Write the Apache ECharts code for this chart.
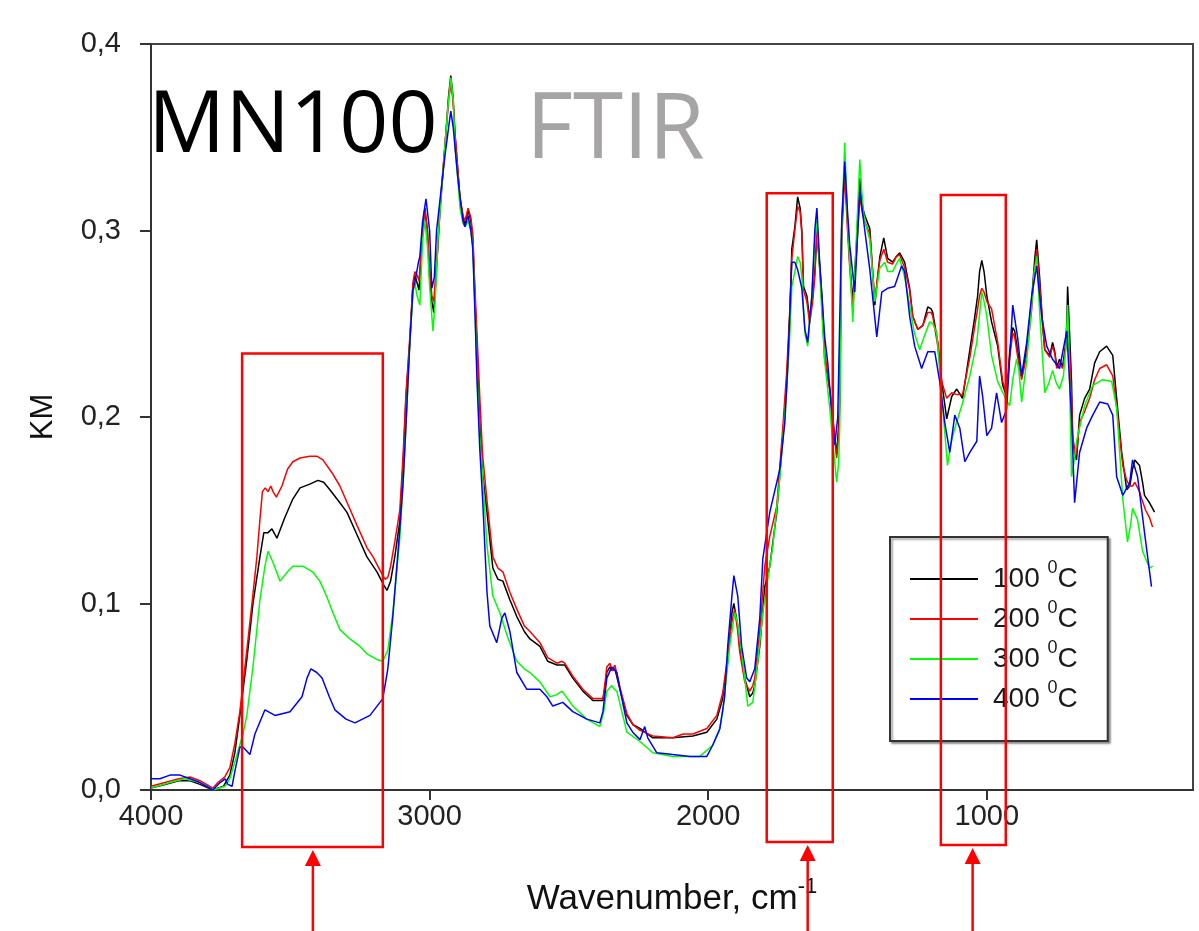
<!DOCTYPE html>
<html>
<head>
<meta charset="utf-8">
<script src="https://cdn.jsdelivr.net/npm/echarts@6/dist/echarts.min.js"></script>
<style>
  html, body { margin: 0; padding: 0; background: #fff; }
  #chart { width: 1199px; height: 931px; }
</style>
</head>
<body>
<div id="chart"></div>
<script>
// Kubelka-Munk spectra of MN100 after heating, [wavenumber cm-1, KM]
const t100 = [[4000,0.001],[3950,0.003],[3900,0.005],[3860,0.005],[3824,0.003],[3778,0.000],[3740,0.002],[3717,0.008],[3699,0.020],[3681,0.040],[3656,0.070],[3634,0.100],[3609,0.125],[3595,0.138],[3580,0.138],[3566,0.140],[3548,0.135],[3520,0.146],[3491,0.156],[3465,0.162],[3430,0.164],[3401,0.166],[3380,0.165],[3358,0.161],[3322,0.154],[3297,0.149],[3261,0.137],[3225,0.125],[3189,0.117],[3165,0.110],[3153,0.107],[3140,0.112],[3125,0.125],[3107,0.144],[3095,0.175],[3085,0.210],[3071,0.240],[3060,0.270],[3053,0.276],[3045,0.272],[3038,0.268],[3025,0.300],[3017,0.312],[3008,0.300],[3000,0.275],[2992,0.262],[2985,0.256],[2975,0.280],[2963,0.310],[2950,0.335],[2940,0.355],[2932,0.372],[2924,0.383],[2916,0.372],[2909,0.352],[2900,0.335],[2891,0.317],[2880,0.307],[2873,0.303],[2862,0.311],[2852,0.305],[2845,0.295],[2837,0.263],[2830,0.238],[2820,0.197],[2810,0.170],[2794,0.149],[2773,0.119],[2755,0.113],[2737,0.112],[2712,0.102],[2687,0.093],[2660,0.085],[2640,0.081],[2604,0.077],[2576,0.069],[2543,0.067],[2515,0.067],[2486,0.060],[2450,0.053],[2414,0.048],[2378,0.048],[2370,0.055],[2364,0.063],[2353,0.066],[2345,0.064],[2335,0.065],[2317,0.054],[2292,0.040],[2270,0.035],[2245,0.033],[2199,0.028],[2127,0.028],[2055,0.029],[2005,0.031],[1969,0.038],[1948,0.049],[1930,0.069],[1915,0.095],[1908,0.100],[1901,0.100],[1894,0.088],[1887,0.077],[1869,0.060],[1851,0.050],[1840,0.052],[1833,0.056],[1815,0.077],[1797,0.109],[1779,0.120],[1754,0.149],[1732,0.190],[1718,0.220],[1707,0.255],[1700,0.290],[1689,0.302],[1679,0.318],[1670,0.312],[1664,0.300],[1658,0.270],[1646,0.265],[1636,0.253],[1625,0.265],[1617,0.279],[1610,0.300],[1600,0.280],[1592,0.262],[1582,0.231],[1564,0.215],[1553,0.199],[1539,0.180],[1532,0.195],[1528,0.208],[1521,0.301],[1510,0.335],[1500,0.305],[1492,0.283],[1481,0.262],[1467,0.295],[1456,0.328],[1445,0.312],[1438,0.308],[1420,0.301],[1402,0.260],[1392,0.275],[1384,0.286],[1370,0.296],[1366,0.297],[1356,0.285],[1338,0.283],[1325,0.286],[1313,0.288],[1295,0.283],[1277,0.269],[1266,0.254],[1248,0.247],[1230,0.249],[1212,0.259],[1200,0.258],[1194,0.256],[1176,0.240],[1162,0.219],[1144,0.199],[1126,0.211],[1108,0.215],[1087,0.210],[1061,0.236],[1044,0.253],[1033,0.265],[1026,0.278],[1018,0.284],[1010,0.278],[1000,0.265],[983,0.251],[961,0.238],[943,0.217],[929,0.211],[918,0.235],[907,0.248],[900,0.246],[889,0.235],[875,0.222],[857,0.236],[839,0.263],[828,0.285],[821,0.295],[810,0.274],[800,0.250],[792,0.236],[774,0.233],[764,0.240],[756,0.235],[749,0.227],[739,0.231],[728,0.227],[718,0.238],[713,0.250],[710,0.270],[703,0.245],[696,0.219],[692,0.190],[685,0.180],[678,0.177],[667,0.201],[649,0.210],[631,0.215],[613,0.229],[595,0.235],[570,0.238],[548,0.233],[534,0.210],[516,0.181],[498,0.161],[487,0.163],[477,0.172],[469,0.177],[452,0.174],[441,0.165],[434,0.158],[416,0.154],[398,0.149]];

const t200 = [[4000,0.002],[3950,0.004],[3900,0.006],[3860,0.007],[3824,0.005],[3790,0.002],[3778,0.001],[3760,0.004],[3735,0.007],[3717,0.012],[3699,0.025],[3681,0.042],[3656,0.075],[3634,0.105],[3620,0.125],[3609,0.145],[3600,0.160],[3590,0.162],[3580,0.160],[3570,0.163],[3562,0.160],[3550,0.157],[3530,0.163],[3510,0.172],[3491,0.176],[3465,0.178],[3430,0.179],[3405,0.179],[3383,0.177],[3350,0.170],[3322,0.163],[3290,0.152],[3261,0.142],[3225,0.130],[3203,0.125],[3175,0.117],[3160,0.113],[3150,0.114],[3140,0.120],[3125,0.133],[3107,0.150],[3095,0.180],[3085,0.212],[3071,0.243],[3060,0.272],[3053,0.278],[3045,0.276],[3038,0.273],[3025,0.302],[3017,0.311],[3008,0.300],[3000,0.280],[2992,0.265],[2985,0.262],[2975,0.283],[2963,0.312],[2950,0.337],[2940,0.355],[2932,0.370],[2924,0.378],[2916,0.370],[2909,0.352],[2900,0.335],[2891,0.318],[2880,0.308],[2873,0.305],[2862,0.312],[2852,0.307],[2845,0.298],[2837,0.268],[2830,0.245],[2820,0.211],[2810,0.180],[2794,0.155],[2773,0.125],[2755,0.119],[2737,0.117],[2712,0.106],[2687,0.097],[2660,0.088],[2640,0.085],[2604,0.079],[2576,0.071],[2543,0.068],[2525,0.069],[2515,0.068],[2486,0.061],[2450,0.054],[2414,0.049],[2378,0.049],[2370,0.058],[2364,0.066],[2353,0.068],[2345,0.064],[2335,0.067],[2317,0.055],[2292,0.041],[2270,0.035],[2245,0.032],[2199,0.029],[2127,0.028],[2090,0.030],[2055,0.030],[2005,0.033],[1969,0.040],[1948,0.052],[1930,0.072],[1915,0.090],[1905,0.097],[1894,0.085],[1887,0.074],[1869,0.058],[1851,0.053],[1840,0.056],[1833,0.060],[1815,0.085],[1797,0.120],[1779,0.136],[1754,0.152],[1732,0.195],[1718,0.225],[1707,0.258],[1700,0.285],[1689,0.300],[1679,0.313],[1670,0.310],[1664,0.298],[1658,0.268],[1646,0.262],[1636,0.250],[1625,0.262],[1617,0.276],[1610,0.300],[1600,0.282],[1592,0.265],[1582,0.235],[1564,0.215],[1553,0.200],[1539,0.178],[1532,0.190],[1528,0.205],[1521,0.295],[1510,0.330],[1500,0.300],[1492,0.280],[1481,0.258],[1467,0.290],[1456,0.318],[1445,0.308],[1438,0.305],[1420,0.298],[1402,0.262],[1392,0.275],[1384,0.284],[1370,0.290],[1366,0.291],[1356,0.283],[1338,0.282],[1325,0.286],[1313,0.287],[1295,0.280],[1277,0.268],[1266,0.254],[1248,0.247],[1230,0.249],[1212,0.256],[1200,0.256],[1194,0.254],[1176,0.238],[1162,0.219],[1144,0.210],[1126,0.213],[1108,0.212],[1087,0.212],[1061,0.232],[1044,0.248],[1033,0.258],[1026,0.265],[1018,0.269],[1010,0.267],[1000,0.262],[983,0.258],[961,0.240],[943,0.219],[929,0.213],[918,0.232],[907,0.245],[900,0.243],[889,0.232],[875,0.220],[857,0.233],[839,0.258],[828,0.280],[821,0.290],[810,0.270],[800,0.250],[792,0.236],[774,0.232],[764,0.238],[756,0.234],[749,0.226],[739,0.229],[728,0.226],[718,0.235],[713,0.242],[710,0.248],[703,0.235],[696,0.210],[692,0.190],[685,0.182],[678,0.180],[667,0.197],[649,0.203],[631,0.210],[613,0.220],[595,0.226],[570,0.228],[548,0.222],[534,0.205],[512,0.174],[498,0.166],[487,0.163],[477,0.163],[469,0.165],[452,0.160],[444,0.156],[430,0.150],[416,0.146],[405,0.141]];

const t300 = [[4000,0.001],[3932,0.004],[3880,0.006],[3824,0.004],[3778,0.000],[3734,0.002],[3717,0.006],[3699,0.015],[3670,0.030],[3656,0.040],[3634,0.066],[3609,0.102],[3591,0.120],[3580,0.128],[3562,0.122],[3537,0.112],[3510,0.117],[3491,0.120],[3455,0.120],[3420,0.117],[3394,0.112],[3370,0.104],[3347,0.095],[3322,0.086],[3286,0.081],[3250,0.077],[3225,0.073],[3190,0.070],[3168,0.069],[3150,0.075],[3132,0.095],[3107,0.135],[3095,0.165],[3085,0.195],[3071,0.240],[3060,0.266],[3053,0.272],[3045,0.265],[3035,0.260],[3025,0.295],[3017,0.305],[3008,0.292],[3000,0.270],[2988,0.246],[2980,0.262],[2970,0.295],[2958,0.320],[2945,0.345],[2935,0.365],[2924,0.382],[2915,0.370],[2909,0.345],[2900,0.330],[2891,0.312],[2880,0.304],[2873,0.302],[2862,0.305],[2852,0.300],[2845,0.292],[2837,0.258],[2830,0.225],[2820,0.190],[2809,0.167],[2794,0.131],[2773,0.104],[2748,0.095],[2720,0.082],[2687,0.069],[2660,0.065],[2640,0.063],[2604,0.058],[2568,0.050],[2545,0.051],[2525,0.053],[2500,0.048],[2486,0.045],[2436,0.038],[2389,0.034],[2375,0.042],[2364,0.053],[2346,0.056],[2337,0.054],[2328,0.053],[2310,0.042],[2292,0.031],[2245,0.026],[2199,0.020],[2127,0.018],[2030,0.018],[1984,0.024],[1960,0.032],[1948,0.042],[1935,0.060],[1923,0.077],[1905,0.095],[1895,0.090],[1887,0.081],[1869,0.060],[1858,0.045],[1840,0.047],[1822,0.069],[1804,0.095],[1790,0.109],[1768,0.131],[1743,0.167],[1718,0.215],[1707,0.245],[1700,0.270],[1689,0.278],[1679,0.286],[1670,0.283],[1664,0.275],[1653,0.245],[1643,0.238],[1628,0.265],[1617,0.295],[1610,0.305],[1600,0.280],[1592,0.255],[1582,0.230],[1564,0.205],[1553,0.187],[1539,0.165],[1532,0.175],[1528,0.195],[1521,0.300],[1510,0.347],[1500,0.305],[1492,0.283],[1481,0.251],[1467,0.300],[1456,0.338],[1445,0.312],[1438,0.305],[1420,0.295],[1402,0.262],[1392,0.272],[1384,0.280],[1366,0.283],[1356,0.278],[1338,0.278],[1325,0.282],[1313,0.285],[1295,0.275],[1277,0.260],[1260,0.245],[1241,0.236],[1225,0.243],[1205,0.251],[1194,0.250],[1180,0.245],[1159,0.206],[1141,0.174],[1130,0.185],[1115,0.194],[1090,0.206],[1061,0.222],[1036,0.240],[1026,0.255],[1018,0.267],[1010,0.262],[1000,0.254],[983,0.233],[961,0.219],[936,0.211],[918,0.206],[907,0.220],[893,0.231],[885,0.225],[875,0.208],[857,0.230],[840,0.258],[830,0.278],[821,0.286],[810,0.255],[792,0.213],[778,0.218],[764,0.225],[750,0.218],[739,0.215],[725,0.222],[715,0.240],[710,0.260],[703,0.220],[696,0.168],[688,0.175],[678,0.187],[649,0.206],[620,0.217],[584,0.220],[552,0.219],[534,0.205],[512,0.156],[495,0.133],[484,0.142],[477,0.151],[459,0.145],[441,0.128],[416,0.119],[405,0.120]];

const t400 = [[4000,0.006],[3968,0.006],[3932,0.008],[3896,0.008],[3860,0.006],[3824,0.004],[3778,0.000],[3752,0.004],[3734,0.006],[3724,0.003],[3709,0.002],[3699,0.010],[3681,0.023],[3670,0.023],[3645,0.019],[3627,0.030],[3591,0.043],[3555,0.040],[3501,0.042],[3458,0.050],[3440,0.060],[3426,0.065],[3405,0.063],[3386,0.060],[3360,0.050],[3340,0.043],[3300,0.038],[3268,0.036],[3214,0.040],[3168,0.049],[3150,0.065],[3132,0.093],[3107,0.140],[3095,0.165],[3085,0.195],[3071,0.240],[3060,0.268],[3053,0.272],[3040,0.283],[3035,0.286],[3025,0.305],[3013,0.317],[3000,0.300],[2992,0.269],[2983,0.275],[2975,0.300],[2960,0.320],[2945,0.340],[2932,0.355],[2924,0.364],[2915,0.355],[2900,0.330],[2891,0.318],[2880,0.305],[2873,0.302],[2862,0.308],[2852,0.300],[2845,0.290],[2837,0.255],[2830,0.220],[2820,0.183],[2809,0.154],[2802,0.131],[2794,0.106],[2784,0.088],[2759,0.079],[2741,0.092],[2730,0.095],[2712,0.085],[2687,0.063],[2651,0.054],[2604,0.054],[2579,0.050],[2558,0.045],[2522,0.047],[2486,0.042],[2436,0.038],[2389,0.036],[2378,0.042],[2364,0.060],[2346,0.066],[2328,0.063],[2310,0.049],[2292,0.036],[2271,0.031],[2245,0.027],[2228,0.034],[2217,0.028],[2185,0.020],[2127,0.019],[2066,0.018],[2005,0.018],[1984,0.024],[1958,0.033],[1941,0.050],[1930,0.077],[1915,0.104],[1908,0.115],[1894,0.104],[1880,0.077],[1862,0.060],[1851,0.058],[1833,0.065],[1815,0.092],[1804,0.124],[1779,0.149],[1743,0.172],[1725,0.197],[1714,0.229],[1700,0.283],[1689,0.283],[1679,0.279],[1664,0.269],[1653,0.247],[1643,0.240],[1628,0.265],[1617,0.301],[1610,0.312],[1600,0.283],[1582,0.243],[1571,0.229],[1557,0.203],[1546,0.185],[1535,0.200],[1521,0.304],[1510,0.337],[1500,0.310],[1492,0.292],[1474,0.267],[1456,0.322],[1438,0.300],[1420,0.279],[1395,0.243],[1377,0.267],[1356,0.269],[1331,0.270],[1306,0.281],[1295,0.278],[1277,0.254],[1259,0.238],[1234,0.226],[1212,0.235],[1187,0.235],[1169,0.219],[1151,0.197],[1133,0.181],[1115,0.201],[1097,0.194],[1079,0.176],[1061,0.181],[1036,0.187],[1026,0.222],[1015,0.211],[1000,0.190],[983,0.194],[965,0.213],[947,0.197],[929,0.204],[907,0.260],[889,0.242],[875,0.222],[857,0.240],[839,0.265],[821,0.281],[803,0.254],[785,0.238],[764,0.231],[739,0.226],[713,0.246],[696,0.200],[685,0.154],[667,0.181],[642,0.194],[620,0.201],[595,0.208],[566,0.207],[548,0.201],[534,0.168],[512,0.158],[487,0.165],[477,0.177],[459,0.168],[434,0.138],[409,0.109]];

const seriesNames = ['100 °C', '200 °C', '300 °C', '400 °C'];
const seriesColors = ['#000000', '#ff0000', '#00ff00', '#0000ff'];
const seriesData = [t100, t200, t300, t400];

const xTicks = [1000, 2000, 3000, 4000];

// highlighted bands: wavenumber span and KM span of each frame
const bandBoxes = [
  { wFrom: 3673, wTo: 3168, kmTop: 0.234, kmBottom: -0.0306, arrowAt: 3419 },
  { wFrom: 1790, wTo: 1553, kmTop: 0.320, kmBottom: -0.0279, arrowAt: 1643 },
  { wFrom: 1165, wTo: 932,  kmTop: 0.319, kmBottom: -0.0295, arrowAt: 1051 }
];

const labelFont = 'Liberation Sans, Arial, sans-serif';

const chart = echarts.init(document.getElementById('chart'), null, { renderer: 'canvas' });

chart.setOption({
  animation: false,
  backgroundColor: '#ffffff',
  title: [
    { text: 'MN100', left: 148, top: 84, padding: 0,
      textStyle: { fontFamily: 'Open Sans', fontSize: 86, fontWeight: 'normal', color: '#000000' } },
    { text: 'FTIR', left: 526, top: 87, padding: 0,
      textStyle: { fontFamily: 'Open Sans', fontSize: 91, fontWeight: 'normal', color: '#a6a4a4' } }
  ],
  grid: {
    left: 151, right: 6, top: 44, bottom: 141,
    show: true, borderColor: '#444', borderWidth: 2, backgroundColor: 'transparent'
  },
  legend: {
    orient: 'vertical', left: 890, top: 537,
    padding: [22, 30, 28, 20], itemGap: 6, itemWidth: 68, itemHeight: 2,
    icon: 'rect',
    backgroundColor: '#fff', borderColor: '#333', borderWidth: 2,
    shadowColor: 'rgba(0,0,0,0.35)', shadowBlur: 2, shadowOffsetX: 2, shadowOffsetY: 2,
    selectedMode: false,
    data: seriesNames,
    formatter: function (name) {
      const num = name.split(' ')[0];
      return '{t|' + num + ' }{s|0}{t|C}';
    },
    textStyle: {
      padding: [0, 0, 0, 10],
      rich: {
        t: { fontFamily: labelFont, fontSize: 28, lineHeight: 40, color: '#1a1a1a' },
        s: { fontFamily: labelFont, fontSize: 18, lineHeight: 40, verticalAlign: 'top', color: '#1a1a1a' }
      }
    }
  },
  xAxis: {
    type: 'value', inverse: true, min: 260, max: 4000,
    name: '{a|Wavenumber, cm}{s|-1}',
    nameLocation: 'middle', nameGap: 86,
    nameTextStyle: {
      rich: {
        a: { fontFamily: labelFont, fontSize: 35, lineHeight: 46, color: '#111' },
        s: { fontFamily: labelFont, fontSize: 22, lineHeight: 46, verticalAlign: 'top', color: '#111' }
      }
    },
    axisLine: { show: true, onZero: false, lineStyle: { color: '#333', width: 2 } },
    axisTick: { show: true, inside: false, length: 10, customValues: xTicks, lineStyle: { color: '#333', width: 2 } },
    axisLabel: {
      customValues: xTicks, margin: 12, fontFamily: labelFont, fontSize: 29, color: '#222',
      formatter: function (v) { return String(v); }
    },
    splitLine: { show: false }
  },
  yAxis: {
    type: 'value', min: 0, max: 0.4, interval: 0.1,
    name: 'KM', nameLocation: 'middle', nameGap: 92, nameRotate: 90,
    nameTextStyle: { fontFamily: labelFont, fontSize: 31, color: '#111' },
    axisLine: { show: true, lineStyle: { color: '#333', width: 2 } },
    axisTick: { show: true, inside: false, length: 11, lineStyle: { color: '#333', width: 2 } },
    axisLabel: {
      margin: 30, fontFamily: labelFont, fontSize: 29, color: '#222',
      formatter: function (v) { return v.toFixed(1).replace('.', ','); }
    },
    splitLine: { show: false }
  },
  series: seriesData.map(function (d, i) {
    return {
      name: seriesNames[i], type: 'line', data: d,
      showSymbol: false, symbol: 'none', smooth: false,
      lineStyle: { color: seriesColors[i], width: 1.5 },
      itemStyle: { color: seriesColors[i] },
      z: 2 + i
    };
  })
});

// red frames and arrows marking the discussed bands, positioned through the axes
function drawBands() {
  const H = chart.getHeight();
  const elements = [];
  bandBoxes.forEach(function (b) {
    const p1 = chart.convertToPixel({ gridIndex: 0 }, [b.wFrom, b.kmTop]);
    const p2 = chart.convertToPixel({ gridIndex: 0 }, [b.wTo, b.kmBottom]);
    elements.push({
      type: 'rect', silent: true, z: 50,
      shape: { x: p1[0], y: p1[1], width: p2[0] - p1[0], height: p2[1] - p1[1] },
      style: { fill: 'none', stroke: '#ff0000', lineWidth: 2.5 }
    });
    const ax = chart.convertToPixel({ gridIndex: 0 }, [b.arrowAt, b.kmBottom])[0];
    const tipY = p2[1] + 3;
    elements.push({
      type: 'line', silent: true, z: 50,
      shape: { x1: ax, y1: tipY + 14, x2: ax, y2: H },
      style: { stroke: '#ff0000', lineWidth: 2.5 }
    });
    elements.push({
      type: 'polygon', silent: true, z: 50,
      shape: { points: [[ax, tipY], [ax - 8, tipY + 16], [ax + 8, tipY + 16]] },
      style: { fill: '#ff0000' }
    });
  });
  chart.setOption({ graphic: elements });
}
drawBands();
</script>
</body>
</html>
